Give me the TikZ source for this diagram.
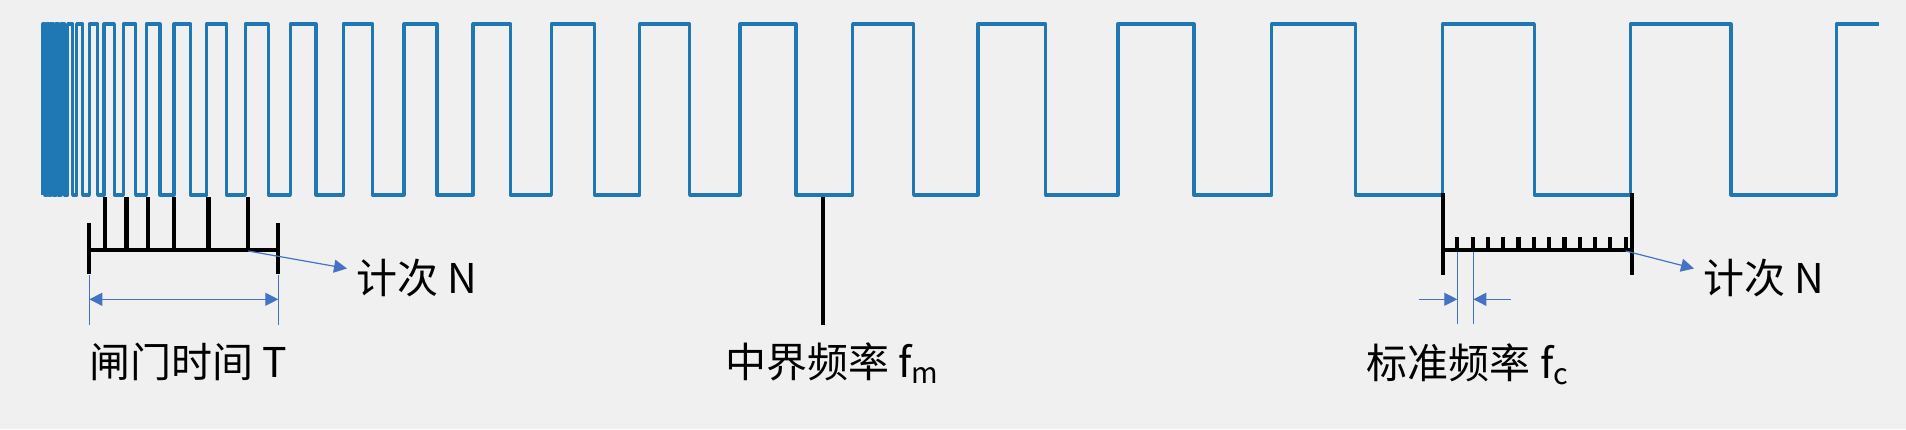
\documentclass[tikz,border=0pt]{standalone}
\usepackage{fontspec}
\setmainfont{Noto Sans CJK SC}
\usetikzlibrary{arrows.meta}

\definecolor{wavecol}{HTML}{1F77B4}
\definecolor{notecol}{HTML}{4472C4}
\definecolor{paper}{HTML}{F0F0F0}

\begin{document}
\begin{tikzpicture}[x=0.5pt,y=-0.5pt,
	signal/.style={draw=wavecol,line width=1.6pt,line join=round},
	stroke/.style={draw=black,line width=2.1pt},
	guide/.style={draw=notecol,line width=0.6pt},
	pointer/.style={guide,-{Triangle[length=6.5pt,width=6.5pt]}},
	txt/.style={inner sep=0pt,anchor=base west,font=\fontsize{20.5}{24}\selectfont}]
	\fill[paper] (0,0) rectangle (1906,429);
	\useasboundingbox (0,0) rectangle (1906,429);
	% signal
	\draw[signal] (43,195) \foreach \u/\d in {43/45, 47/49, 51/53.5, 56/58.5, 61/64.5,
		67.7/72.7, 76.7/82.7, 89.3/97.7, 104/114.3, 123.3/135.7, 146.3/160, 174/190.7,
		206.7/226.7, 245.3/268.3, 290.3/316, 343.2/372.7, 404/437, 473/510.5, 551.4/594.7,
		639.8/689.6, 740/796, 852.6/913.6, 977.9/1045.7, 1117.9/1193.9, 1271.8/1355.7,
		1442.7/1534.4, 1630.3/1731}
		{ -- (\u,195) -- (\u,24) -- (\d,24) -- (\d,195) }
		-- (1836.4,195) -- (1836.4,24) -- (1879,24);
	% gate time
	\draw[stroke] (89.3,223.3) -- (89.3,274.3) (278.3,223.3) -- (278.3,274.3);
	\draw[stroke] (89.3,250) -- (278.3,250);
	\foreach \x in {105,126.5,148.3,174.3,208.5,248.3}
		\draw[stroke] (\x,250) -- (\x,196.5);
	\coordinate (nl) at (248.3,251);
	\node[txt] (cntl) at (356,293) {计次 N};
	\draw[pointer] (nl) -- ([shift={(-4.5pt,4.5pt)}]cntl.west);
	\coordinate (ga) at (89.3,299.3);
	\coordinate (gb) at (278.3,299.3);
	\draw[guide] (89.3,275) -- (89.3,325) (278.3,275) -- (278.3,325);
	\draw[guide,{Triangle[length=6.5pt,width=6.5pt]}-{Triangle[length=6.5pt,width=6.5pt]}] (ga) -- (gb);
	\node[txt] (gate) at (89,377) {闸门时间 T};
	% middle
	\draw[stroke] (823.3,197) -- (823.3,325);
	\node[txt] (fm) at (725,377) {中界频率 f\textsubscript{m}};
	% standard frequency
	\draw[stroke] (1443.3,193.3) -- (1443.3,275) (1631.7,193.3) -- (1631.7,275);
	\draw[stroke] (1443.3,250) -- (1631.7,250);
	\foreach \i in {0,...,11}
		\draw[stroke] ({1457.3+15.3*\i},250) -- ({1457.3+15.3*\i},236.7);
	\coordinate (nr) at (1625.7,251);
	\node[txt] (cntr) at (1703,293) {计次 N};
	\draw[pointer] (nr) -- ([shift={(-4.5pt,4.5pt)}]cntr.west);
	\draw[guide] (1457.3,251.7) -- (1457.3,324) (1473.3,251.7) -- (1473.3,324);
	\coordinate (ca) at (1419.3,299.3);
	\coordinate (cb) at (1510.7,299.3);
	\draw[pointer] (ca) -- (1457.3,299.3);
	\draw[pointer] (cb) -- (1473.3,299.3);
	\node[txt] (fc) at (1366.5,378) {标准频率 f\textsubscript{c}};
\end{tikzpicture}
\end{document}
